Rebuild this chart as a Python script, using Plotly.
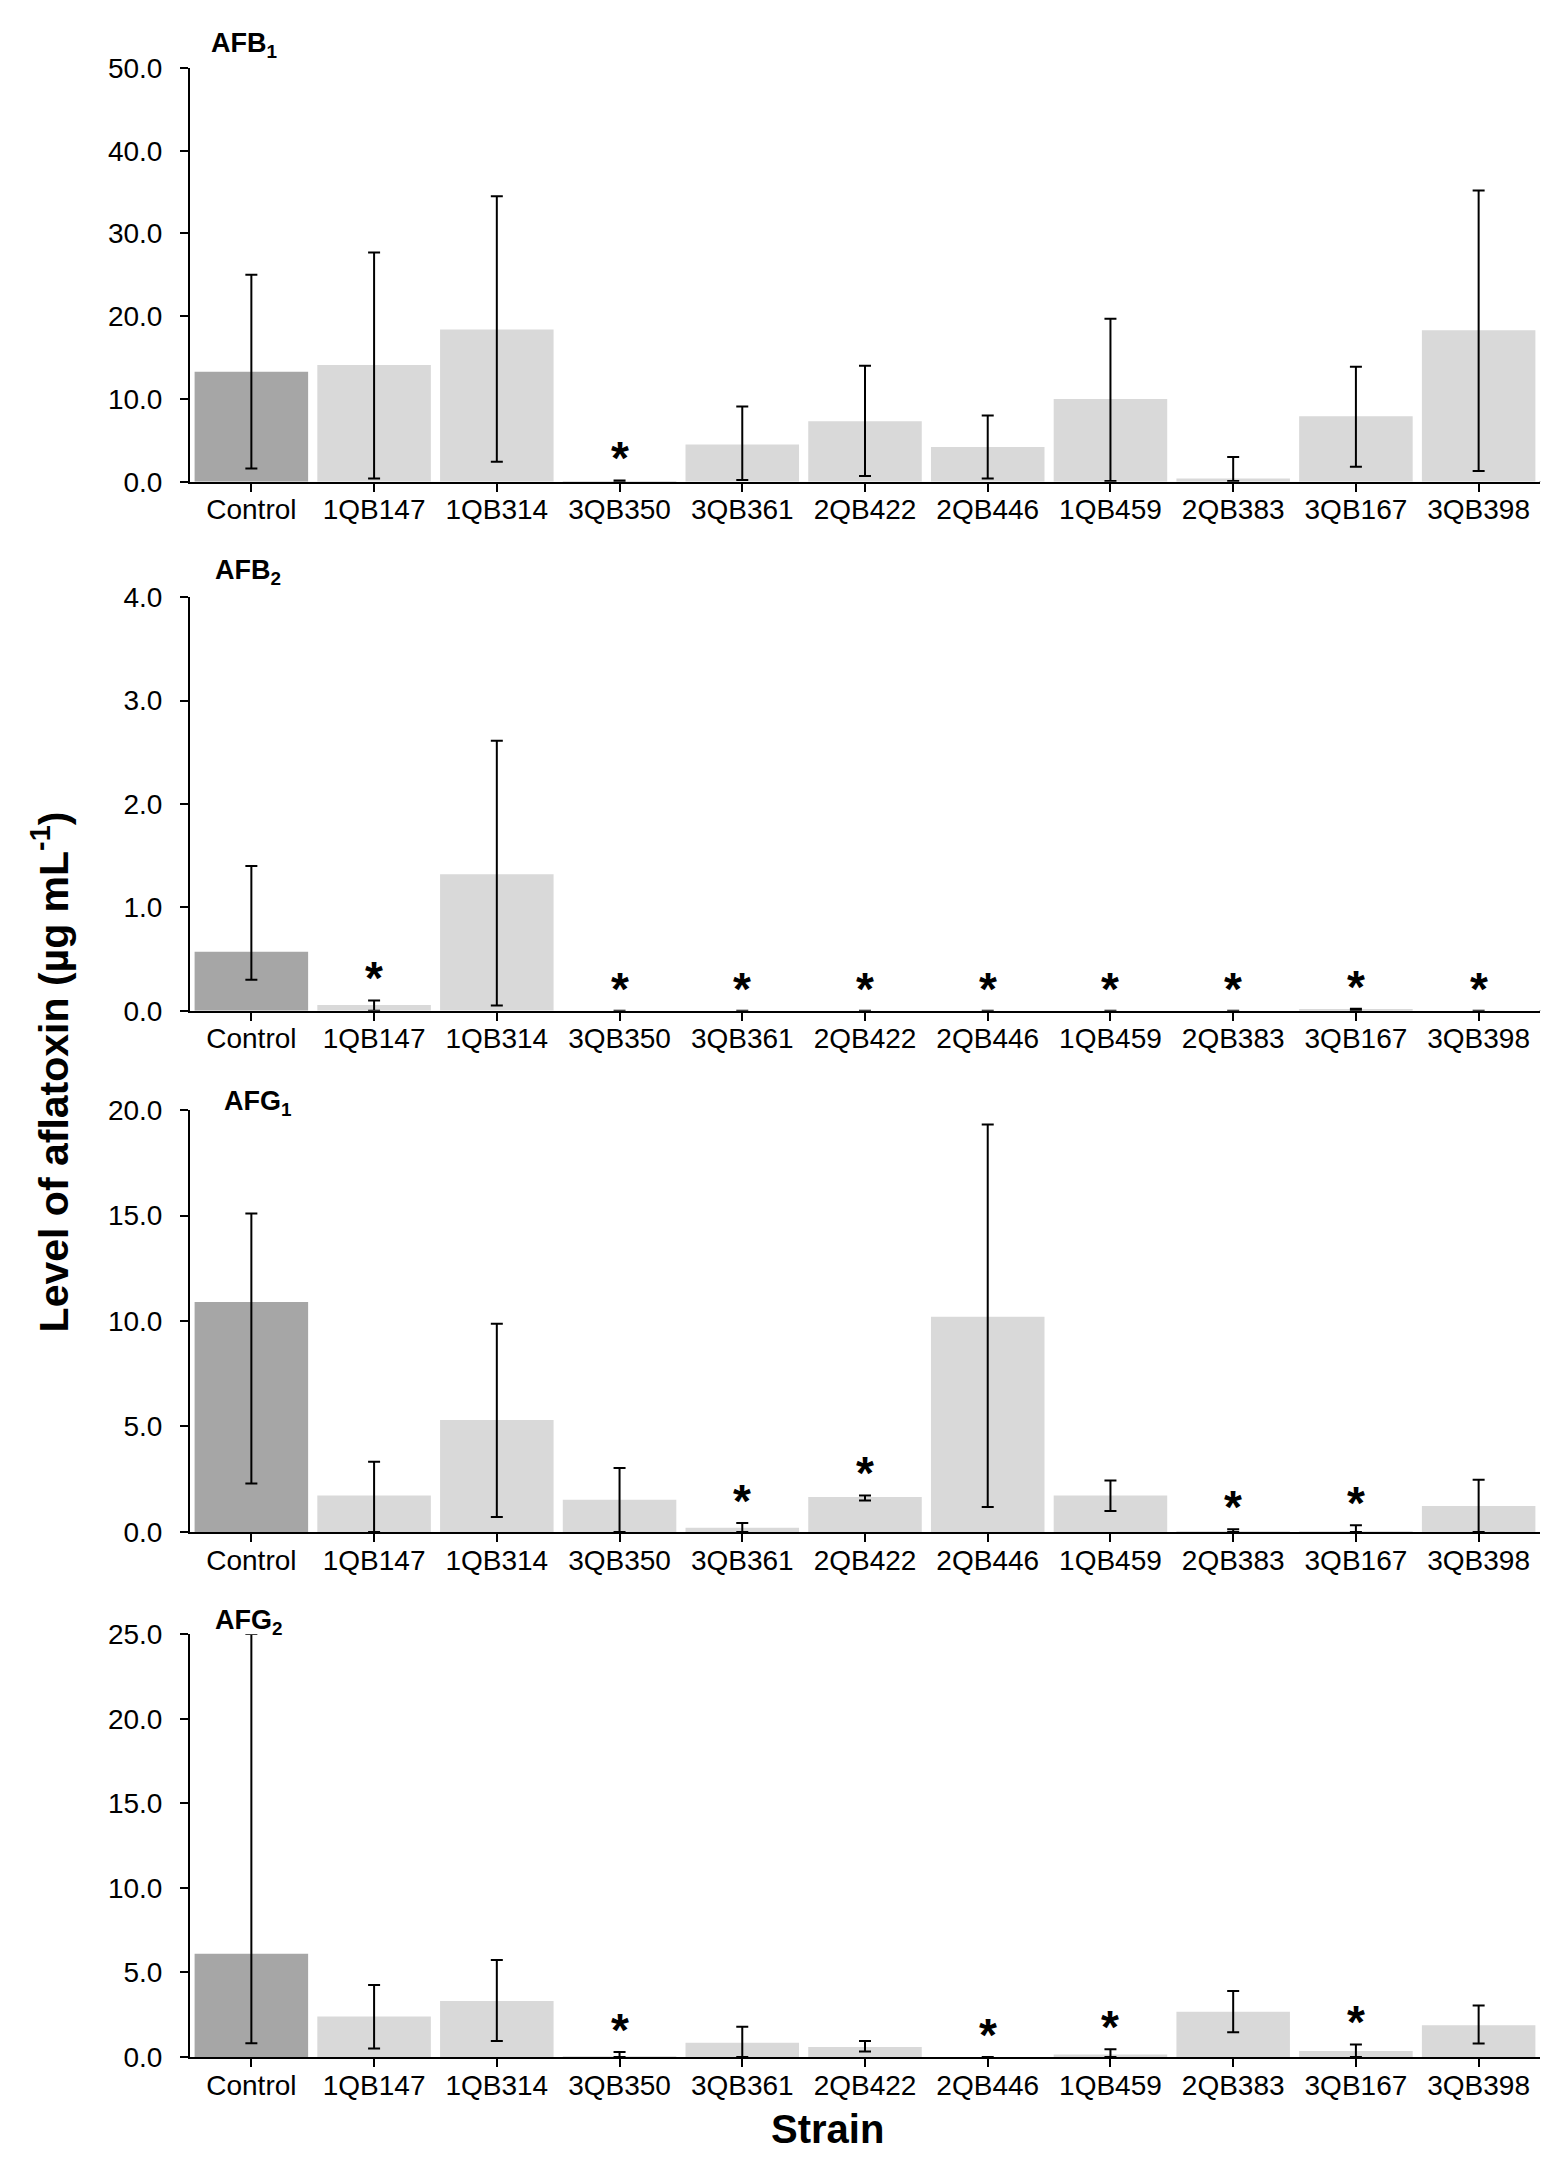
import plotly.graph_objects as go
from plotly.subplots import make_subplots

# -----------------------------
# Data
# -----------------------------
strains = ["Control", "1QB147", "1QB314", "3QB350", "3QB361", "2QB422",
           "2QB446", "1QB459", "2QB383", "3QB167", "3QB398"]

afb1_mean = [13.3, 14.1, 18.4, 0.05, 4.5, 7.3, 4.2, 10.0, 0.4, 7.9, 18.3]
afb1_hi   = [11.7, 13.6, 16.1, 0.10, 4.6, 6.7, 3.8, 9.7, 2.6, 6.0, 16.9]
afb1_lo   = [11.7, 13.7, 16.0, 0.05, 4.3, 6.6, 3.8, 9.9, 0.3, 6.1, 17.0]
afb1_sig  = ["3QB350"]

afb2_mean = [0.57, 0.055, 1.32, 0, 0, 0, 0, 0, 0, 0.01, 0]
afb2_hi   = [0.83, 0.045, 1.29, 0, 0, 0, 0, 0, 0, 0.01, 0]
afb2_lo   = [0.27, 0.055, 1.27, 0, 0, 0, 0, 0, 0, 0.01, 0]
afb2_sig  = ["1QB147", "3QB350", "3QB361", "2QB422", "2QB446",
             "1QB459", "2QB383", "3QB167", "3QB398"]

afg1_mean = [10.9, 1.73, 5.31, 1.52, 0.2, 1.65, 10.21, 1.73, 0.02, 0.02, 1.23]
afg1_hi   = [4.2, 1.6, 4.56, 1.51, 0.22, 0.08, 9.11, 0.71, 0.11, 0.29, 1.24]
afg1_lo   = [8.6, 1.73, 4.6, 1.52, 0.2, 0.16, 9.03, 0.74, 0.02, 0.02, 1.23]
afg1_sig  = ["3QB361", "2QB422", "2QB383", "3QB167"]

afg2_mean = [6.11, 2.40, 3.31, 0.02, 0.84, 0.59, 0, 0.15, 2.67, 0.36, 1.87]
afg2_hi   = [18.9, 1.85, 2.42, 0.27, 0.95, 0.36, 0, 0.31, 1.23, 0.38, 1.18]
afg2_lo   = [5.3, 1.89, 2.36, 0.02, 0.84, 0.27, 0, 0.15, 1.20, 0.36, 1.07]
afg2_sig  = ["3QB350", "2QB446", "1QB459", "3QB167"]

panels = [
    ("AFB<sub>1</sub>", afb1_mean, afb1_hi, afb1_lo, afb1_sig, 50, 10),
    ("AFB<sub>2</sub>", afb2_mean, afb2_hi, afb2_lo, afb2_sig, 4, 1),
    ("AFG<sub>1</sub>", afg1_mean, afg1_hi, afg1_lo, afg1_sig, 20, 5),
    ("AFG<sub>2</sub>", afg2_mean, afg2_hi, afg2_lo, afg2_sig, 25, 5),
]

domains = [(0.792, 1.0), (0.526, 0.734), (0.264, 0.476), (0.0, 0.2126)]
title_pos = [(0.014, 1.056), (0.017, 1.06), (0.024, 1.017), (0.017, 1.028)]

FONT = "Arial, Liberation Sans, sans-serif"
colors = ["#a6a6a6"] + ["#d9d9d9"] * (len(strains) - 1)

fig = make_subplots(rows=4, cols=1)

for i, (name, mean, hi, lo, sig, ymax, dtick) in enumerate(panels):
    r = i + 1
    fig.add_trace(
        go.Bar(
            x=strains, y=mean,
            marker=dict(color=colors, line=dict(width=0)),
            error_y=dict(type="data", symmetric=False, array=hi, arrayminus=lo,
                         color="black", thickness=2, width=6),
            showlegend=False,
        ),
        row=r, col=1,
    )
    fig.update_yaxes(
        domain=list(domains[i]), range=[0, ymax], dtick=dtick, tickformat=".1f",
        showline=True, linecolor="black", linewidth=2, ticks="outside",
        tickcolor="black", tickwidth=2, ticklen=8, showgrid=False, zeroline=False,
        ticklabelstandoff=12,
        tickfont=dict(family=FONT, size=28, color="black"),
        row=r, col=1,
    )
    fig.update_xaxes(
        showline=True, linecolor="black", linewidth=2, ticks="outside",
        tickcolor="black", tickwidth=2, ticklen=8, showgrid=False,
        ticklabelstandoff=-6,
        tickfont=dict(family=FONT, size=28, color="black"),
        row=r, col=1,
    )
    xr = "x" if r == 1 else f"x{r}"
    yr = "y" if r == 1 else f"y{r}"
    # panel label
    fig.add_annotation(
        text=f"<b>{name}</b>", xref=f"{xr} domain", yref=f"{yr} domain",
        x=title_pos[i][0], y=title_pos[i][1], xanchor="left", yanchor="middle",
        showarrow=False, font=dict(family=FONT, size=27, color="black"),
    )
    # significance asterisks
    for s in sig:
        k = strains.index(s)
        fig.add_annotation(
            text="<b>*</b>", x=s, y=mean[k] + hi[k], xref=xr, yref=yr,
            xanchor="center", yanchor="middle", yshift=22, showarrow=False,
            font=dict(family=FONT, size=46, color="black"),
        )
    # end tick on the x axis
    fig.add_shape(
        type="line", xref=f"{xr} domain", yref=yr, x0=1, x1=1,
        ysizemode="pixel", yanchor=0, y0=0, y1=-8,
        line=dict(color="black", width=2),
    )

fig.add_annotation(
    text="<b>Level of aflatoxin (µg mL<sup>-1</sup>)</b>", xref="paper", yref="paper",
    x=-0.103, y=0.4955, textangle=-90, showarrow=False,
    xanchor="center", yanchor="middle", font=dict(family=FONT, size=41, color="black"),
)
fig.add_annotation(
    text="<b>Strain</b>", xref="paper", yref="paper", x=0.472, y=-0.036,
    showarrow=False, xanchor="center", yanchor="middle",
    font=dict(family=FONT, size=40, color="black"),
)

fig.update_layout(
    width=1559, height=2159,
    margin=dict(l=182, r=27, t=60, b=110),
    bargap=0.075,
    plot_bgcolor="white", paper_bgcolor="white",
    font=dict(family=FONT, color="black"),
)

fig.write_html("out.html")
